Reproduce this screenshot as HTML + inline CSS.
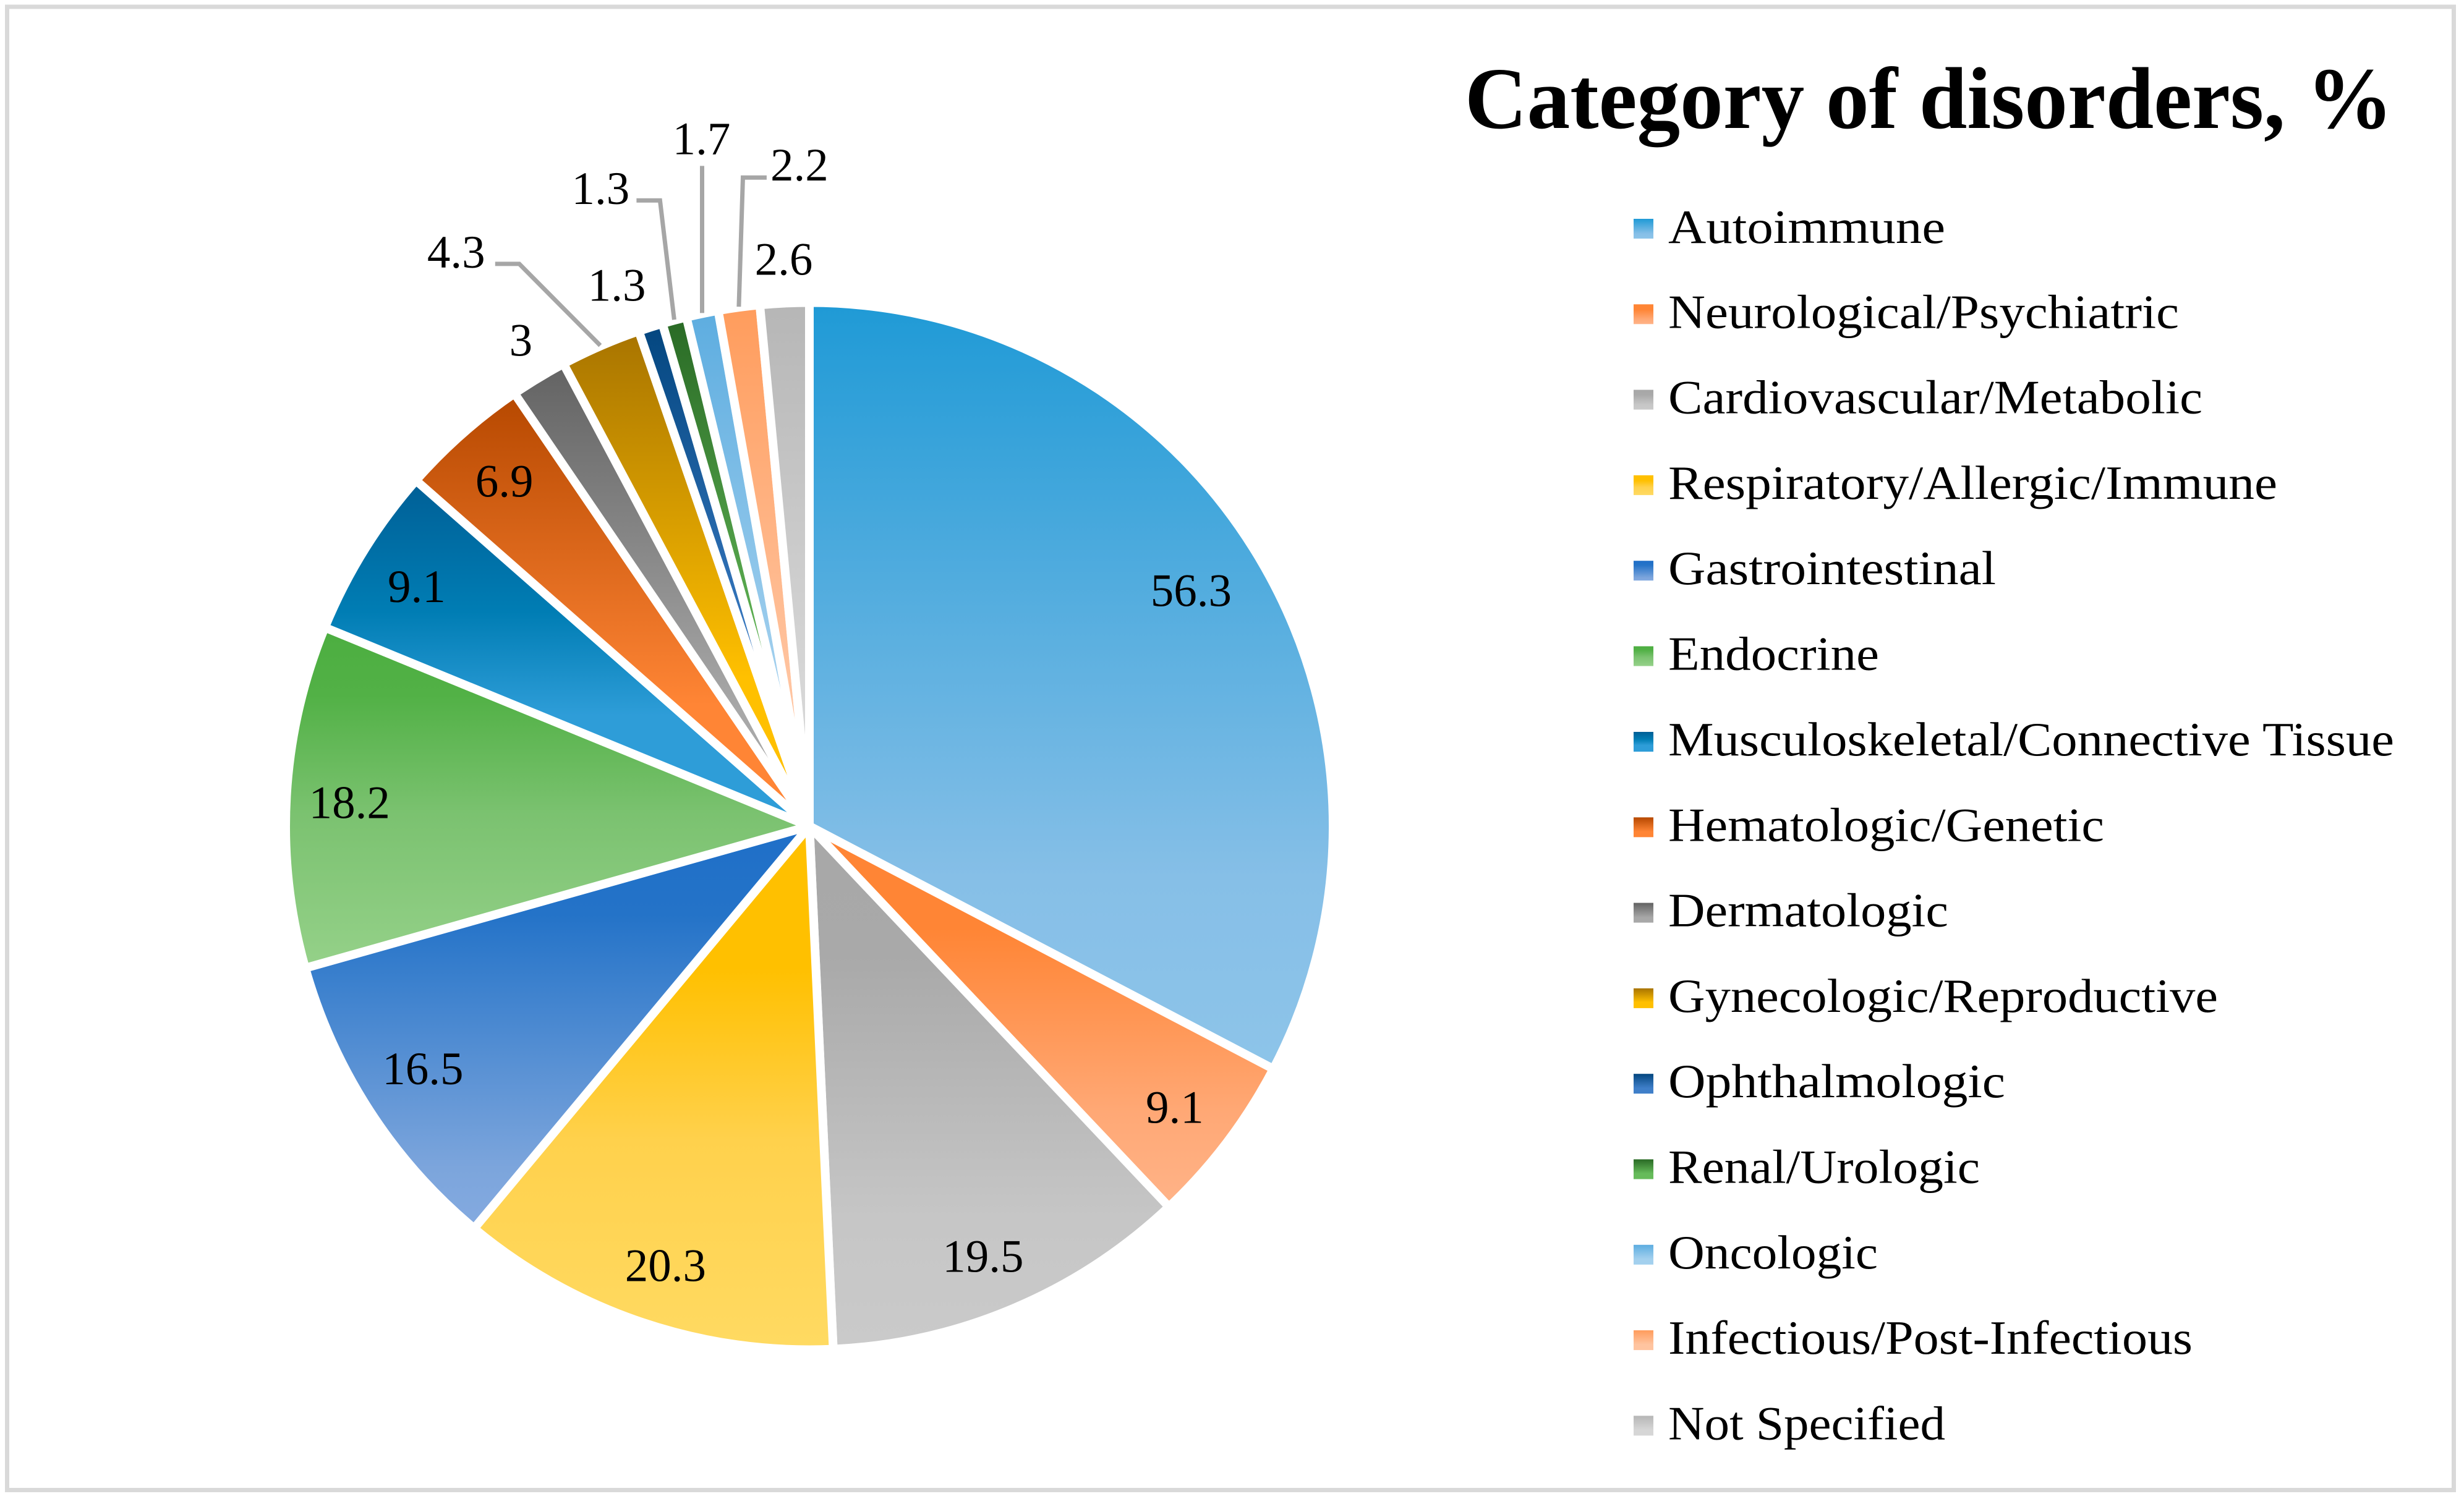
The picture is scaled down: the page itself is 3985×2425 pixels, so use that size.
<!DOCTYPE html>
<html lang="en">
<head>
<meta charset="utf-8">
<title>Category of disorders</title>
<style>
html,body{margin:0;padding:0;background:#fff;width:3985px;height:2425px;overflow:hidden}
svg{display:block}
text{font-family:"Liberation Serif",serif;fill:#000}
.legend-text{font-size:77px}
.value-label{font-size:75px;text-anchor:middle}
</style>
</head>
<body>
<svg id="chart" xmlns="http://www.w3.org/2000/svg" width="3985" height="2425" viewBox="0 0 3985 2425">
<defs>
<linearGradient id="g0" x1="0" y1="0" x2="0" y2="1"><stop offset="0" stop-color="#1f9ad6"/><stop offset="0.75" stop-color="#86bfe7"/><stop offset="1" stop-color="#8dc4e9"/></linearGradient>
<linearGradient id="g1" x1="0" y1="0" x2="0" y2="1"><stop offset="0" stop-color="#ff8535"/><stop offset="0.27" stop-color="#ff8535"/><stop offset="0.75" stop-color="#ffa875"/><stop offset="1" stop-color="#ffb388"/></linearGradient>
<linearGradient id="g2" x1="0" y1="0" x2="0" y2="1"><stop offset="0" stop-color="#a8a8a8"/><stop offset="0.25" stop-color="#a9a9a9"/><stop offset="0.75" stop-color="#c6c6c6"/><stop offset="1" stop-color="#cacaca"/></linearGradient>
<linearGradient id="g3" x1="0" y1="0" x2="0" y2="1"><stop offset="0" stop-color="#ffc000"/><stop offset="0.27" stop-color="#ffc000"/><stop offset="0.6" stop-color="#ffd14c"/><stop offset="1" stop-color="#ffda62"/></linearGradient>
<linearGradient id="g4" x1="0" y1="0" x2="0" y2="1"><stop offset="0" stop-color="#1f6fc8"/><stop offset="0.22" stop-color="#2473c8"/><stop offset="0.85" stop-color="#7ca5dc"/><stop offset="1" stop-color="#84aae0"/></linearGradient>
<linearGradient id="g5" x1="0" y1="0" x2="0" y2="1"><stop offset="0" stop-color="#4cae40"/><stop offset="0.2" stop-color="#52b146"/><stop offset="0.55" stop-color="#7bc270"/><stop offset="1" stop-color="#95d189"/></linearGradient>
<linearGradient id="g6" x1="0" y1="0" x2="0" y2="1"><stop offset="0" stop-color="#005f96"/><stop offset="0.38" stop-color="#007db4"/><stop offset="0.68" stop-color="#2e9dd8"/><stop offset="1" stop-color="#2e9dd8"/></linearGradient>
<linearGradient id="g7" x1="0" y1="0" x2="0" y2="1"><stop offset="0" stop-color="#b64800"/><stop offset="0.72" stop-color="#ff8535"/><stop offset="1" stop-color="#ff8535"/></linearGradient>
<linearGradient id="g8" x1="0" y1="0" x2="0" y2="1"><stop offset="0" stop-color="#636363"/><stop offset="0.75" stop-color="#a8a8a8"/><stop offset="1" stop-color="#a8a8a8"/></linearGradient>
<linearGradient id="g9" x1="0" y1="0" x2="0" y2="1"><stop offset="0" stop-color="#a87400"/><stop offset="0.7" stop-color="#ffc000"/><stop offset="1" stop-color="#ffc000"/></linearGradient>
<linearGradient id="g10" x1="0" y1="0" x2="0" y2="1"><stop offset="0" stop-color="#03467f"/><stop offset="0.72" stop-color="#3f7fc9"/><stop offset="1" stop-color="#3f7fc9"/></linearGradient>
<linearGradient id="g11" x1="0" y1="0" x2="0" y2="1"><stop offset="0" stop-color="#296a25"/><stop offset="0.72" stop-color="#66bb5a"/><stop offset="1" stop-color="#66bb5a"/></linearGradient>
<linearGradient id="g12" x1="0" y1="0" x2="0" y2="1"><stop offset="0" stop-color="#5dade0"/><stop offset="0.72" stop-color="#a3d0ee"/><stop offset="1" stop-color="#a3d0ee"/></linearGradient>
<linearGradient id="g13" x1="0" y1="0" x2="0" y2="1"><stop offset="0" stop-color="#ff9c5c"/><stop offset="0.72" stop-color="#ffc4a0"/><stop offset="1" stop-color="#ffc4a0"/></linearGradient>
<linearGradient id="g14" x1="0" y1="0" x2="0" y2="1"><stop offset="0" stop-color="#b6b6b6"/><stop offset="0.72" stop-color="#d6d6d6"/><stop offset="1" stop-color="#d6d6d6"/></linearGradient>
</defs>

<rect x="0" y="0" width="3985" height="2425" fill="#fff"/>
<rect x="11.5" y="11" width="3957" height="2399.5" fill="#fff" stroke="#d9d9d9" stroke-width="7"/>

<g id="slices"></g>
<g id="leaders"></g>
<g id="labels"></g>

<text x="2369" y="207" font-size="142" font-weight="700" textLength="1501" lengthAdjust="spacingAndGlyphs">Category of disorders, %</text>

<g>
<g><rect x="2642" y="354" width="32" height="32" fill="url(#g0)"/><text class="legend-text" x="2698" y="393" textLength="448" lengthAdjust="spacingAndGlyphs">Autoimmune</text></g>
<g><rect x="2642" y="492.3" width="32" height="32" fill="url(#g1)"/><text class="legend-text" x="2698" y="530.3" textLength="826" lengthAdjust="spacingAndGlyphs">Neurological/Psychiatric</text></g>
<g><rect x="2642" y="630.6" width="32" height="32" fill="url(#g2)"/><text class="legend-text" x="2698" y="668.6" textLength="864" lengthAdjust="spacingAndGlyphs">Cardiovascular/Metabolic</text></g>
<g><rect x="2642" y="768.9" width="32" height="32" fill="url(#g3)"/><text class="legend-text" x="2698" y="806.9" textLength="985" lengthAdjust="spacingAndGlyphs">Respiratory/Allergic/Immune</text></g>
<g><rect x="2642" y="907.2" width="32" height="32" fill="url(#g4)"/><text class="legend-text" x="2698" y="945.2" textLength="530" lengthAdjust="spacingAndGlyphs">Gastrointestinal</text></g>
<g><rect x="2642" y="1045.5" width="32" height="32" fill="url(#g5)"/><text class="legend-text" x="2698" y="1083.5" textLength="341" lengthAdjust="spacingAndGlyphs">Endocrine</text></g>
<g><rect x="2642" y="1184" width="32" height="32" fill="url(#g6)"/><text class="legend-text" x="2698" y="1222" textLength="1174" lengthAdjust="spacingAndGlyphs">Musculoskeletal/Connective Tissue</text></g>
<g><rect x="2642" y="1322.3" width="32" height="32" fill="url(#g7)"/><text class="legend-text" x="2698" y="1360.3" textLength="705" lengthAdjust="spacingAndGlyphs">Hematologic/Genetic</text></g>
<g><rect x="2642" y="1460.6" width="32" height="32" fill="url(#g8)"/><text class="legend-text" x="2698" y="1498.6" textLength="453" lengthAdjust="spacingAndGlyphs">Dermatologic</text></g>
<g><rect x="2642" y="1598.9" width="32" height="32" fill="url(#g9)"/><text class="legend-text" x="2698" y="1636.9" textLength="889" lengthAdjust="spacingAndGlyphs">Gynecologic/Reproductive</text></g>
<g><rect x="2642" y="1737.2" width="32" height="32" fill="url(#g10)"/><text class="legend-text" x="2698" y="1775.2" textLength="545" lengthAdjust="spacingAndGlyphs">Ophthalmologic</text></g>
<g><rect x="2642" y="1875.5" width="32" height="32" fill="url(#g11)"/><text class="legend-text" x="2698" y="1913.5" textLength="504" lengthAdjust="spacingAndGlyphs">Renal/Urologic</text></g>
<g><rect x="2642" y="2013.8" width="32" height="32" fill="url(#g12)"/><text class="legend-text" x="2698" y="2051.8" textLength="339" lengthAdjust="spacingAndGlyphs">Oncologic</text></g>
<g><rect x="2642" y="2152.1" width="32" height="32" fill="url(#g13)"/><text class="legend-text" x="2698" y="2190.1" textLength="848" lengthAdjust="spacingAndGlyphs">Infectious/Post-Infectious</text></g>
<g><rect x="2642" y="2290.4" width="32" height="32" fill="url(#g14)"/><text class="legend-text" x="2698" y="2328.4" textLength="448" lengthAdjust="spacingAndGlyphs">Not Specified</text></g>
</g>
</svg>

<script>
const categories = ["autoimmune","neurological","cardiovascular","respiratory","gastrointestinal","endocrine","musculoskeletal","hematologic","dermatologic","gynecologic","ophthalmologic","renal","oncologic","infectious","not-specified"];
const seriesValues = [56.3,9.1,19.5,20.3,16.5,18.2,9.1,6.9,3,4.3,1.3,1.3,1.7,2.2,2.6];
const valueLabels = ["56.3","9.1","19.5","20.3","16.5","18.2","9.1","6.9","3","4.3","1.3","1.3","1.7","2.2","2.6"];

const SVG_NS = "http://www.w3.org/2000/svg";
const CX = 1309, CY = 1336.5, R = 847, GAP = 14;
const INSIDE_R = 745, OUTSIDE_R = 918, RIM_R = 848, LABEL_BASELINE = 25;

// Manual label placement in the original chart, relative to each slice's default anchor.
const placedOutside = {8: true, 10: true, 14: true};
const labelNudge = {
  0: [-20, 5], 1: [-3, 5], 2: [-10, 10], 3: [5, 5], 4: [0, -13], 5: [0, 5], 6: [-2, 5],
  8: [8, 0], 10: [-33, 0], 11: [0, -2], 12: [-3, -2], 13: [-3, -2], 14: [2, 0]
};
const calloutLayout = {
  9:  {label: [-233, -151], knee: [-131, -132], end: [-170, -132]},
  11: {label: [-119, -210], knee: [-23, -193], end: [-61, -193]},
  12: {label: [2, -280], knee: null, end: [0, -238]},
  13: {label: [101, -227], knee: [6.6, -209], end: [45, -209]}
};

const total = seriesValues.reduce(function (a, b) { return a + b; }, 0);
function angleOf(cum) { return cum / total * 2 * Math.PI; }
function polar(angle, radius) {
  return [CX + radius * Math.sin(angle), CY - radius * Math.cos(angle)];
}

const slicesGroup = document.getElementById("slices");
const leadersGroup = document.getElementById("leaders");
const labelsGroup = document.getElementById("labels");

let cumulative = 0;
seriesValues.forEach(function (value, i) {
  const a0 = angleOf(cumulative);
  const a1 = angleOf(cumulative + value);
  const mid = (a0 + a1) / 2;
  cumulative += value;

  const p0 = polar(a0, R);
  const p1 = polar(a1, R);
  const large = (a1 - a0) > Math.PI ? 1 : 0;
  const slice = document.createElementNS(SVG_NS, "path");
  slice.setAttribute("d", "M" + CX + " " + CY + " L" + p0[0].toFixed(2) + " " + p0[1].toFixed(2) +
    " A" + R + " " + R + " 0 " + large + " 1 " + p1[0].toFixed(2) + " " + p1[1].toFixed(2) + " Z");
  slice.setAttribute("fill", "url(#g" + i + ")");
  slice.setAttribute("stroke", "#fff");
  slice.setAttribute("stroke-width", GAP);
  slice.setAttribute("stroke-linejoin", "bevel");
  
  
  slicesGroup.appendChild(slice);

  let lx, ly;
  const callout = calloutLayout[i];
  if (callout) {
    const rim = polar(mid, RIM_R);
    lx = rim[0] + callout.label[0];
    ly = rim[1] + callout.label[1];
    const pts = [rim];
    if (callout.knee) pts.push([rim[0] + callout.knee[0], rim[1] + callout.knee[1]]);
    pts.push([rim[0] + callout.end[0], rim[1] + callout.end[1]]);
    const line = document.createElementNS(SVG_NS, "polyline");
    line.setAttribute("points", pts.map(function (p) { return p[0].toFixed(1) + "," + p[1].toFixed(1); }).join(" "));
    line.setAttribute("fill", "none");
    line.setAttribute("stroke", "#a6a6a6");
    line.setAttribute("stroke-width", "7");
    
    
    leadersGroup.appendChild(line);
  } else {
    const pos = polar(mid, placedOutside[i] ? OUTSIDE_R : INSIDE_R);
    lx = pos[0];
    ly = pos[1];
  }
  const nudge = labelNudge[i] || [0, 0];

  const label = document.createElementNS(SVG_NS, "text");
  label.setAttribute("class", "value-label");
  label.setAttribute("x", (lx + nudge[0]).toFixed(1));
  label.setAttribute("y", (ly + LABEL_BASELINE + nudge[1]).toFixed(1));
  label.textContent = valueLabels[i];
  
  
  labelsGroup.appendChild(label);
});
</script>
</body>
</html>
